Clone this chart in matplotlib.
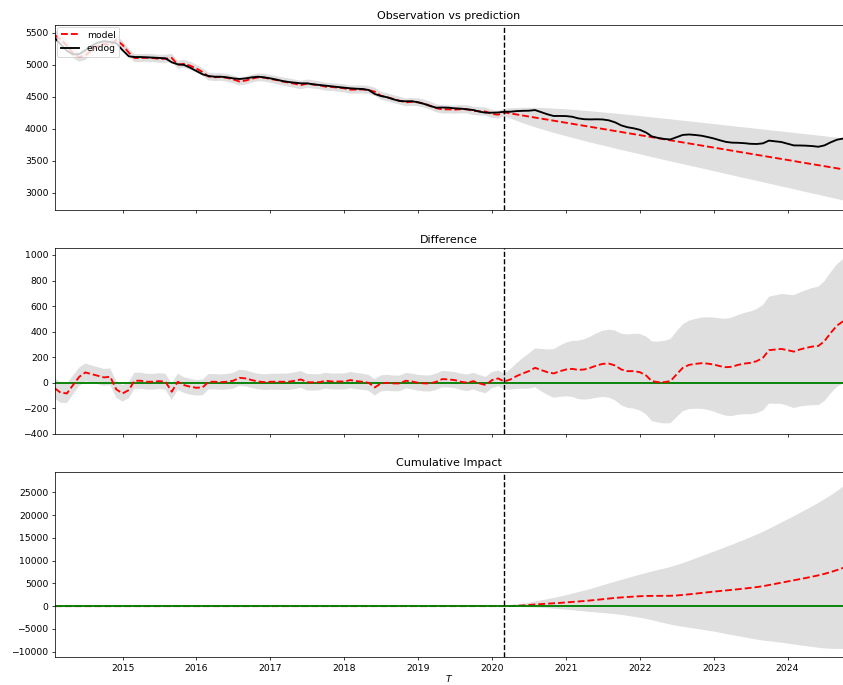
import matplotlib
matplotlib.use('Agg')
import matplotlib.pyplot as plt
import matplotlib.dates as mdates
import numpy as np
import pandas as pd

# monthly series, Feb 2014 - Oct 2024, intervention in Mar 2020
months = pd.date_range('2014-02-01', '2024-10-01', freq='MS')
intervention = pd.Timestamp('2020-03-01')

# observed values (endog)
endog = [
    5420, 5320, 5220, 5165, 5170, 5230, 5300, 5350, 5370, 5360, 5340, 5230,
    5135, 5124, 5124, 5120, 5115, 5109, 5104, 5041, 5010, 5000, 4957, 4905,
    4853, 4827, 4816, 4816, 4806, 4790, 4780, 4790, 4806, 4816, 4806, 4790,
    4770, 4749, 4733, 4722, 4712, 4712, 4697, 4686, 4676, 4665, 4655, 4644,
    4634, 4628, 4624, 4608, 4545, 4514, 4494, 4462, 4436, 4431, 4433, 4415,
    4389, 4358, 4331, 4334, 4331, 4321, 4316, 4305, 4295, 4269, 4253, 4253,
    4256, 4268, 4268, 4278, 4282, 4284, 4294, 4260, 4228, 4201, 4202, 4200,
    4189, 4165, 4151, 4148, 4150, 4147, 4133, 4101, 4054, 4025, 4009, 3985,
    3942, 3882, 3858, 3842, 3834, 3869, 3905, 3912, 3904, 3893, 3873, 3850,
    3821, 3797, 3784, 3782, 3776, 3766, 3763, 3773, 3816, 3805, 3794, 3768,
    3741, 3740, 3737, 3731, 3720, 3741, 3789, 3830, 3848,
]

# point effect (observation - prediction)
effect = [
    -44, -78, -83, -18, 47, 81, 68, 55, 42, 47, -52, -83,
    -57, 16, 16, 8, 8, 13, 8, -70, 8, -18, -31, -39,
    -36, 8, 8, 5, 8, 16, 39, 34, 21, 10, 5, 8,
    8, 8, 8, 16, 26, 5, 3, 5, 16, 10, 10, 10,
    21, 13, 8, 0, -36, -5, 0, -5, -5, 16, 10, 0,
    -5, -5, 8, 29, 26, 21, 8, 0, 13, -5, -18, 21,
    34, 10, 26, 52, 73, 91, 117, 99, 83, 73, 90, 104,
    109, 101, 104, 117, 135, 148, 150, 135, 104, 91, 91, 83,
    57, 13, 5, 5, 13, 65, 117, 140, 148, 153, 150, 143,
    130, 122, 125, 140, 150, 156, 169, 195, 255, 260, 265, 255,
    244, 260, 273, 283, 288, 325, 390, 447, 481,
]

# half width of the prediction interval
half_width = [
    80, 78, 76, 74, 72, 70, 68, 67, 66, 65, 65, 64,
    64, 63, 63, 62, 62, 62, 63, 64, 63, 62, 62, 61,
    61, 61, 60, 60, 61, 62, 63, 63, 62, 61, 61, 62,
    63, 64, 65, 66, 66, 65, 64, 63, 62, 62, 63, 63,
    64, 64, 63, 62, 64, 63, 62, 62, 61, 61, 62, 62,
    63, 63, 64, 64, 63, 63, 64, 65, 65, 65, 64, 63,
    62, 60, 80, 100, 120, 137, 152, 166, 178, 190, 200, 210,
    219, 228, 236, 244, 252, 259, 266, 273, 280, 287, 293, 299,
    305, 311, 317, 323, 329, 335, 340, 346, 351, 357, 362, 368,
    374, 379, 385, 390, 396, 402, 407, 413, 418, 424, 430, 435,
    441, 446, 452, 458, 463, 469, 474, 480, 486,
]

endog = np.array(endog, dtype=float)
effect = np.array(effect, dtype=float)
half_width = np.array(half_width, dtype=float)

model = endog - effect
model_lo = model - half_width
model_hi = model + half_width
diff_lo = endog - model_hi
diff_hi = endog - model_lo

post = months >= intervention
cum = np.where(post, np.cumsum(np.where(post, effect, 0)), 0)
cum_lo = np.where(post, np.cumsum(np.where(post, diff_lo, 0)), 0)
cum_hi = np.where(post, np.cumsum(np.where(post, diff_hi, 0)), 0)

DPI = 67
fig = plt.figure(figsize=(843 / DPI, 685 / DPI), dpi=DPI)
left = 55 / 843
width = 1 - left
ax1 = fig.add_axes([left, 0.6934, width, 0.2701])
ax2 = fig.add_axes([left, 0.3660, width, 0.2715], sharex=ax1)
ax3 = fig.add_axes([left, 0.0404, width, 0.2710], sharex=ax1)

band = dict(facecolor='gray', interpolate=True, alpha=0.25, linewidth=0)

# observation vs prediction
ax1.plot(months, model, 'r--', linewidth=2, label='model')
ax1.plot(months, endog, 'k', linewidth=2, label='endog')
ax1.fill_between(months, model_lo, model_hi, **band)
ax1.axvline(intervention, c='k', linestyle='--')
ax1.set_title('Observation vs prediction')
ax1.set_ylim(2730, 5625)
ax1.set_yticks([3000, 3500, 4000, 4500, 5000, 5500])
ax1.legend(loc='upper left', borderaxespad=0.2)

# pointwise difference
ax2.fill_between(months, diff_lo, diff_hi, **band)
ax2.axhline(0, color='g', linewidth=2)
ax2.plot(months, effect, 'r--', linewidth=2)
ax2.axvline(intervention, c='k', linestyle='--')
ax2.set_title('Difference')
ax2.set_ylim(-403, 1052)
ax2.set_yticks([-400, -200, 0, 200, 400, 600, 800, 1000])

# cumulative impact
ax3.fill_between(months, cum_lo, cum_hi, **band)
ax3.plot(months, cum, 'r--', linewidth=2)
ax3.axhline(0, color='g', linewidth=2)
ax3.axvline(intervention, c='k', linestyle='--')
ax3.set_title('Cumulative Impact')
ax3.set_ylim(-11230, 29520)
ax3.set_yticks([-10000, -5000, 0, 5000, 10000, 15000, 20000, 25000])
ax3.set_xlabel('$T$', labelpad=0)

for ax in (ax1, ax2, ax3):
    ax.spines['right'].set_visible(False)
ax1.tick_params(labelbottom=False)
ax2.tick_params(labelbottom=False)
ax3.set_xlim(months[0], months[-1])
ax3.xaxis.set_major_locator(mdates.YearLocator())
ax3.xaxis.set_major_formatter(mdates.DateFormatter('%Y'))

fig.savefig('out.png', dpi=DPI)
